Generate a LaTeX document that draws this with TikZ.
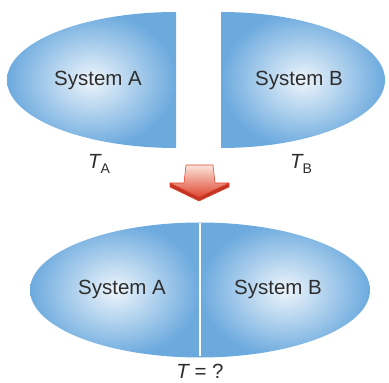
\documentclass[tikz,border=0pt]{standalone}
\usepackage{fontspec}
\setmainfont{Liberation Sans}
\definecolor{sysblue}{RGB}{108,170,222}
\definecolor{arrowred}{RGB}{222,72,50}
\definecolor{arrowdark}{RGB}{196,52,36}
\definecolor{arrowlight}{RGB}{252,228,218}
\begin{document}
\begin{tikzpicture}[x=1pt,y=1pt,
  system/.style={inner color=sysblue!12,outer color=sysblue},
  label/.style={text=black!82,font=\fontsize{20.5}{24}\selectfont,inner sep=0pt}]
  \useasboundingbox (0,0) rectangle (389,383);
  % separated systems
  \shade[system] (176,371) arc (90:270:169 and 68) -- cycle;
  \shade[system] (221,235) arc (-90:90:164 and 68) -- cycle;
  \node[label] (sysA) at (98,303) {System A};
  \node[label] (sysB) at (299,303) {System B};
  \node[label] (tA) at (99,219) {\itshape T\raisebox{-5pt}{\normalfont\fontsize{14}{16}\selectfont A}};
  \node[label] (tB) at (301,219) {\itshape T\raisebox{-5pt}{\normalfont\fontsize{14}{16}\selectfont B}};
  % arrow
  \fill[arrowdark,draw=arrowred,line width=0.6pt,line join=round]
    (170,200) -- (199,186) -- (229,200) -- (229,196) -- (199,182) -- (170,196) -- cycle;
  \shade[top color=arrowlight,bottom color=arrowred,draw=arrowred,line width=0.6pt,line join=round]
    (186,218) -- (213,218) -- (215,200) -- (229,200) -- (199,186) -- (170,200) -- (184,200) -- cycle;
  % systems in contact
  \shade[system] (200,160.5) arc (90:270:170 and 67.5) -- cycle;
  \shade[system] (200,25.5) arc (-90:90:170 and 67.5) -- cycle;
  \draw[white,line width=1.5pt] (200,159.5) -- (200,26.5);
  \node[label] (contA) at (122,94) {System A};
  \node[label] (contB) at (278,94) {System B};
  \node[label] (tEq) at (200,12) {{\itshape T} = ?};
\end{tikzpicture}
\end{document}
